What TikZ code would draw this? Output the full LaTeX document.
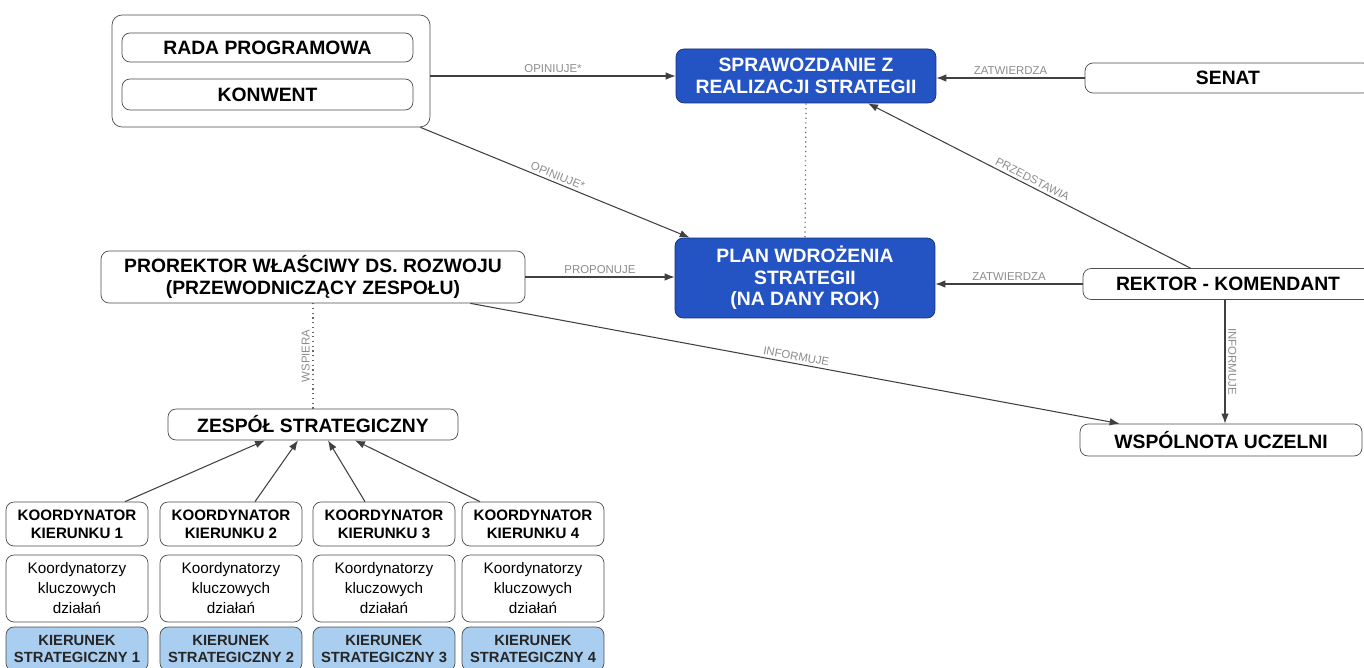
\documentclass[tikz,border=0pt]{standalone}
\usepackage{fontspec}
\setmainfont{Liberation Sans}
\usetikzlibrary{arrows.meta,positioning}

\definecolor{planblue}{RGB}{36,84,196}
\definecolor{planblueline}{RGB}{20,45,120}
\definecolor{dirblue}{RGB}{170,206,240}

\tikzset{
	box/.style={draw=black!70, rounded corners=1.6mm, fill=white, align=center, inner sep=1pt,
		font=\bfseries\fontsize{11}{12.2}\selectfont},
	bluebox/.style={box, draw=planblueline, fill=planblue, text=white},
	smallbox/.style={box, minimum width=2.84cm, font=\bfseries\fontsize{8.6}{10.2}\selectfont},
	actbox/.style={smallbox, minimum height=1.34cm, font=\fontsize{8.7}{11.4}\selectfont},
	dirbox/.style={smallbox, fill=dirblue, minimum height=0.88cm, font=\bfseries\fontsize{8.4}{10}\selectfont, text=black!85},
	conn/.style={draw=black!75, line width=0.6pt, -{Latex[length=2mm,width=1.5mm]}},
	dots/.style={draw=black!60, line width=0.7pt, dotted},
	lbl/.style={font=\fontsize{6.5}{7}\selectfont, text=black!45, inner sep=1.5pt}
}

\begin{document}
\begin{tikzpicture}[x=0.02cm, y=-0.02cm]
		\useasboundingbox (0,0) rectangle (1364,668);
		\clip (0,0) rectangle (1364,668);

		% upper left group
		\node[box, rounded corners=2mm, minimum width=6.36cm, minimum height=2.24cm] (grp) at (271,71) {};
		\node[box, minimum width=5.82cm, minimum height=0.58cm] (rada) at (267.5,47.5) {RADA PROGRAMOWA};
		\node[box, minimum width=5.82cm, minimum height=0.62cm] (konwent) at (267.5,94.5) {KONWENT};

		% central blue nodes
		\node[bluebox, minimum width=5.2cm, minimum height=1.08cm] (spraw) at (806,76) {SPRAWOZDANIE Z\\REALIZACJI STRATEGII};
		\node[bluebox, minimum width=5.2cm, minimum height=1.6cm] (plan) at (805,278) {PLAN WDROŻENIA\\STRATEGII\\(NA DANY ROK)};

		% right side
		\node[box, minimum width=5.72cm, minimum height=0.6cm] (senat) at (1228,78) {SENAT};
		\node[box, minimum width=5.8cm, minimum height=0.62cm] (rektor) at (1228,284) {REKTOR - KOMENDANT};
		\node[box, minimum width=5.64cm, minimum height=0.64cm] (wspolnota) at (1221,440) {WSPÓLNOTA UCZELNI};

		% left side
		\node[box, minimum width=8.48cm, minimum height=1.04cm] (prorektor) at (313,277) {PROREKTOR WŁAŚCIWY DS. ROZWOJU\\(PRZEWODNICZĄCY ZESPOŁU)};
		\node[box, minimum width=5.8cm, minimum height=0.62cm] (zespol) at (313,424.5) {ZESPÓŁ STRATEGICZNY};

		% strategic directions
		\node[smallbox, minimum height=0.88cm] (koord1) at (77,524) {KOORDYNATOR\\KIERUNKU 1};
		\node[smallbox, minimum height=0.88cm] (koord2) at (231,524) {KOORDYNATOR\\KIERUNKU 2};
		\node[smallbox, minimum height=0.88cm] (koord3) at (384,524) {KOORDYNATOR\\KIERUNKU 3};
		\node[smallbox, minimum height=0.88cm] (koord4) at (533,524) {KOORDYNATOR\\KIERUNKU 4};

		\node[actbox] (akt1) at (77,588.5) {Koordynatorzy\\kluczowych\\działań};
		\node[actbox] (akt2) at (231,588.5) {Koordynatorzy\\kluczowych\\działań};
		\node[actbox] (akt3) at (384,588.5) {Koordynatorzy\\kluczowych\\działań};
		\node[actbox] (akt4) at (533,588.5) {Koordynatorzy\\kluczowych\\działań};

		\node[dirbox] (kier1) at (77,649) {KIERUNEK\\STRATEGICZNY 1};
		\node[dirbox] (kier2) at (231,649) {KIERUNEK\\STRATEGICZNY 2};
		\node[dirbox] (kier3) at (384,649) {KIERUNEK\\STRATEGICZNY 3};
		\node[dirbox] (kier4) at (533,649) {KIERUNEK\\STRATEGICZNY 4};

		% connectors
		\draw[conn] (spraw.west -| grp.east) -- node[lbl, above] {OPINIUJE*} (spraw.west);
		\draw[conn] ([xshift=-0.2cm]grp.south east) -- node[lbl, above, sloped] {OPINIUJE*} ([xshift=0.3cm]plan.north west);
		\draw[conn] (senat.west) -- node[lbl, above] {ZATWIERDZA} (senat.west -| spraw.east);
		\draw[conn] ([xshift=-0.75cm]rektor.north) -- node[lbl, above, sloped] {PRZEDSTAWIA} ([xshift=1.24cm]spraw.south);
		\draw[dots] (spraw.south) -- (plan.north);
		\draw[conn] (prorektor.east) -- node[lbl, above] {PROPONUJE} (prorektor.east -| plan.west);
		\draw[conn] (rektor.west) -- node[lbl, above] {ZATWIERDZA} (rektor.west -| plan.east);
		\draw[conn] ([xshift=-0.06cm]rektor.south) -- node[lbl, above, sloped] {INFORMUJE} ([xshift=-0.06cm]rektor.south |- wspolnota.north);
		\draw[conn] ([xshift=-1.1cm]prorektor.south east) -- node[lbl, above, sloped] {INFORMUJE} ([xshift=0.8cm]wspolnota.north west);
		\draw[dots] (zespol.north) -- node[lbl, above, sloped] {WSPIERA} (prorektor.south);

		\draw[conn] ([xshift=0.96cm]koord1.north) -- ([xshift=-0.96cm]zespol.south);
		\draw[conn] ([xshift=0.48cm]koord2.north) -- ([xshift=-0.3cm]zespol.south);
		\draw[conn] ([xshift=-0.38cm]koord3.north) -- ([xshift=0.3cm]zespol.south);
		\draw[conn] ([xshift=-1.06cm]koord4.north) -- ([xshift=0.84cm]zespol.south);
\end{tikzpicture}
\end{document}
